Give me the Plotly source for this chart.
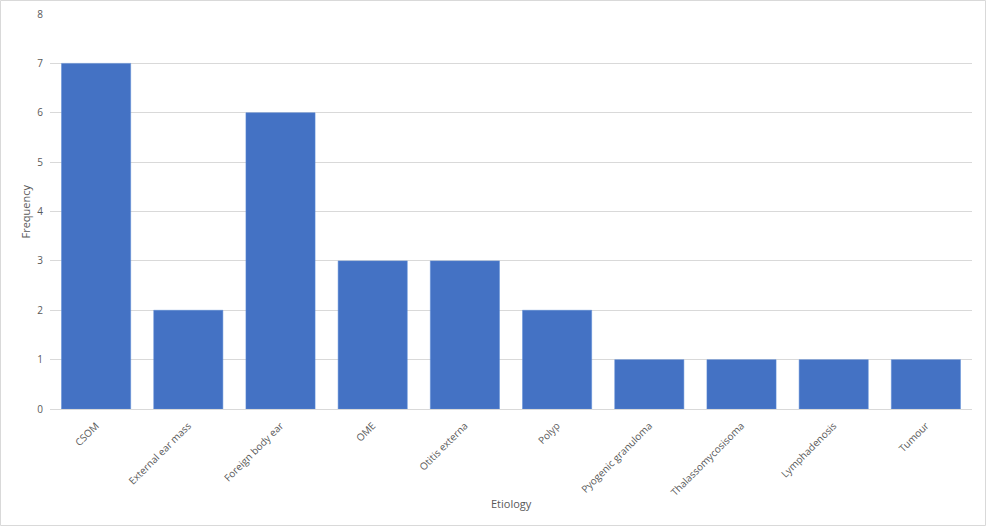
import plotly.graph_objects as go

categories = ["CSOM", "External ear mass", "Foreign body ear", "OME", "Otitis externa",
              "Polyp", "Pyogenic granuloma", "Thalassomycosisoma", "Lymphadenosis", "Tumour"]
frequency = [7, 2, 6, 3, 3, 2, 1, 1, 1, 1]

PW, PH = 922, 395

fig = go.Figure(go.Bar(
    x=categories, y=frequency,
    marker=dict(color="#4472C4", line=dict(color="#5b8ad6", width=0.5)),
))

fig.update_layout(
    width=986, height=526,
    margin=dict(l=50, r=14, t=14, b=117, autoexpand=False),
    paper_bgcolor="white", plot_bgcolor="white",
    bargap=0.25,
    showlegend=False,
    font=dict(family="Open Sans, Liberation Sans, sans-serif", size=10, color="#595959"),
    xaxis=dict(
        tickangle=-45, showgrid=False, showline=True, linecolor="#d9d9d9", linewidth=1,
        ticks="", ticklabelstandoff=6, automargin=False,
        tickfont=dict(size=10, color="#595959"),
    ),
    yaxis=dict(
        range=[0, 8], dtick=1, showgrid=True, gridcolor="#d9d9d9", gridwidth=1,
        zeroline=False, showline=False, ticks="", ticklabelstandoff=6, automargin=False,
        tickfont=dict(size=10, color="#595959"),
    ),
    annotations=[
        dict(text="Etiology", xref="paper", yref="paper", x=0.5, y=-(503 - 409) / PH,
             showarrow=False, xanchor="center", yanchor="middle",
             font=dict(size=11, color="#595959")),
        dict(text="Frequency", xref="paper", yref="paper", x=-(50 - 25) / PW, y=0.5,
             showarrow=False, xanchor="center", yanchor="middle", textangle=-90,
             font=dict(size=11, color="#595959")),
    ],
    shapes=[dict(type="rect", xref="paper", yref="paper", x0=-49.5 / PW, x1=1 + 13.5 / PW,
                 y0=-116.5 / PH, y1=1 + 13.5 / PH, line=dict(color="#d9d9d9", width=1))],
)

fig.write_html("out.html")
